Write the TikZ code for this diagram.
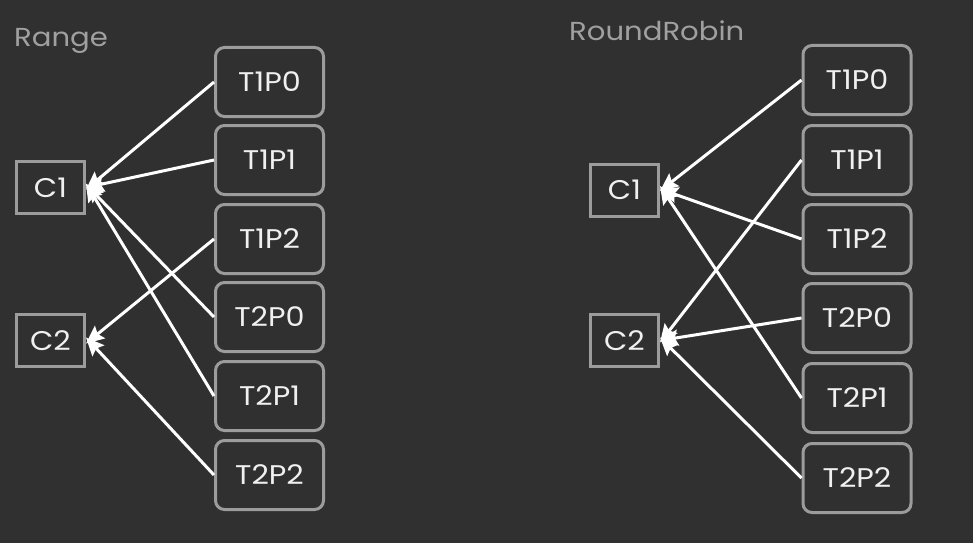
\documentclass[tikz,border=0pt]{standalone}
\usepackage{fontspec}
\setmainfont{Poppins}
\newfontfamily\widefont[FakeStretch=1.12]{Poppins}
\usetikzlibrary{arrows.meta}
\definecolor{bg}{HTML}{303030}
\definecolor{bordergray}{HTML}{9C9C9C}
\definecolor{titlegray}{HTML}{A0A0A0}
\definecolor{txt}{HTML}{F0F0F0}
\tikzset{
  lbl/.style={text=txt, font=\widefont\fontsize{27}{30}\selectfont},
  cbox/.style={draw=bordergray, line width=3pt, minimum width=68pt, minimum height=52pt, inner sep=0pt, lbl},
  tbox/.style={draw=bordergray, line width=3pt, rounded corners=9pt, minimum width=108pt, minimum height=69pt, inner sep=0pt, lbl},
  title/.style={text=titlegray, font=\widefont\fontsize{26}{29}\selectfont, anchor=base west, inner sep=0pt},
  conn/.style={draw=white, line width=3pt, -{Stealth[length=18pt,width=16pt,inset=3pt]}}
}
\begin{document}
\begin{tikzpicture}[x=1pt,y=-1pt]
\fill[bg] (0,0) rectangle (973,543);
\useasboundingbox (0,0) rectangle (973,543);
% Left: Range
\node[title] (rangeT) at (14,47) {Range};
\node[cbox] (LC1) at (50.5,187.5) {C1};
\node[cbox] (LC2) at (50.5,340.5) {C2};
\node[tbox] (LA) at (269.5,82) {T1P0};
\node[tbox] (LB) at (269.5,160) {T1P1};
\node[tbox] (LC) at (269.5,239) {T1P2};
\node[tbox] (LD) at (269.5,317) {T2P0};
\node[tbox] (LE) at (269.5,396) {T2P1};
\node[tbox] (LF) at (269.5,475) {T2P2};
\draw[conn] (LA.west) -- ([yshift=-2pt]LC1.east);
\draw[conn] (LB.west) -- (LC1.east);
\draw[conn] (LD.west) -- ([yshift=3pt]LC1.east);
\draw[conn] (LE.west) -- ([yshift=4pt]LC1.east);
\draw[conn] (LC.west) -- ([yshift=-3pt]LC2.east);
\draw[conn] (LF.west) -- ([yshift=3pt]LC2.east);
% Right: RoundRobin
\node[title] (rrT) at (569,41) {RoundRobin};
\node[cbox] (RC1) at (624.5,190) {C1};
\node[cbox] (RC2) at (624.5,340.5) {C2};
\node[tbox] (RA) at (857,80) {T1P0};
\node[tbox] (RB) at (857,160) {T1P1};
\node[tbox] (RC) at (857,239) {T1P2};
\node[tbox] (RD) at (857,318) {T2P0};
\node[tbox] (RE) at (857,398) {T2P1};
\node[tbox] (RF) at (857,478) {T2P2};
\draw[conn] (RA.west) -- ([yshift=-1pt]RC1.east);
\draw[conn] (RC.west) -- ([yshift=1pt]RC1.east);
\draw[conn] (RE.west) -- ([yshift=4pt]RC1.east);
\draw[conn] (RB.west) -- ([yshift=-2pt]RC2.east);
\draw[conn] (RD.west) -- (RC2.east);
\draw[conn] (RF.west) -- ([yshift=3pt]RC2.east);
\end{tikzpicture}
\end{document}
